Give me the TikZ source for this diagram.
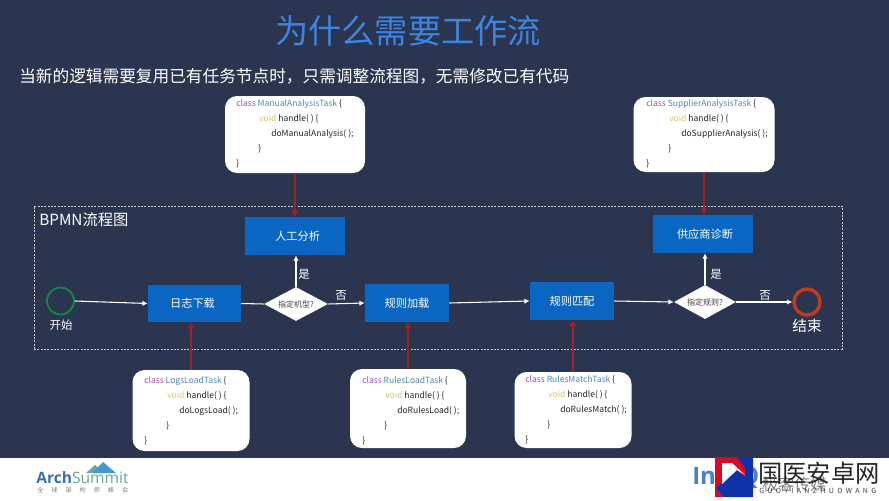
\documentclass[tikz,border=0pt]{standalone}
\usepackage{fontspec}
\setmainfont{Noto Sans CJK SC}
\newfontfamily\latinf{Open Sans}
\newfontfamily\wmspaced[LetterSpace=47]{Noto Sans CJK SC}
\usetikzlibrary{arrows.meta,shapes.geometric}
\definecolor{bg}{HTML}{2B3550}
\definecolor{boxblue}{HTML}{0A66C2}
\definecolor{titleblue}{HTML}{3D85E0}
\definecolor{kwpurple}{HTML}{A04FB0}
\definecolor{kwblue}{HTML}{4F86B8}
\definecolor{kwyellow}{HTML}{D9C66A}
\definecolor{arrred}{HTML}{A81E28}
\definecolor{startgreen}{HTML}{0F8A45}
\definecolor{endred}{HTML}{C03A22}
\definecolor{archblue}{HTML}{3C6EB4}
\definecolor{archgreen}{HTML}{6FA88C}
\definecolor{peak}{HTML}{4696D2}
\definecolor{infoblue}{HTML}{4A80C8}
\definecolor{wmred}{HTML}{DC0A1E}
\definecolor{wmblue}{HTML}{0F32AA}
\tikzset{
  x=0.75pt,y=-0.75pt,
  procbox/.style={fill=boxblue,draw=none,text=white,inner sep=0pt,font=\fontsize{8.4pt}{10pt}\selectfont},
  codebox/.style={fill=white,draw=none,rounded corners=9pt,inner sep=0pt},
  decision/.style={diamond,fill=white,draw=none,aspect=1.85,inner sep=0pt,text=black!75,font=\fontsize{6pt}{7pt}\selectfont},
  lbl/.style={text=white,inner sep=0pt,font=\fontsize{8.6pt}{10pt}\selectfont},
  flow/.style={draw=white,line width=0.8pt,-{Latex[length=4pt,width=4pt]}},
  plainflow/.style={draw=white,line width=0.8pt},
  hook/.style={draw=arrred,line width=1.5pt,-{Latex[length=4.5pt,width=5.5pt]}},
  codetxt/.style={anchor=west,inner sep=0pt,font=\fontsize{6.4pt}{8pt}\selectfont,text=black!85},
}
\newcommand{\codeblock}[5]{% name, left x, top y, class name, method
  \node[codetxt] (#1a) at (#2,#3) {\textcolor{kwpurple}{class} \textcolor{kwblue}{#4} \{};
  \node[codetxt] (#1b) at (#2+23,#3+15) {\textcolor{kwyellow}{void} handle( ) \{};
  \node[codetxt] (#1c) at (#2+35,#3+30) {#5( );};
  \node[codetxt] (#1d) at (#2+22,#3+45) {\}};
  \node[codetxt] (#1e) at (#2,#3+60) {\}};
}
\begin{document}
\begin{tikzpicture}
\useasboundingbox (0,0) rectangle (889,500);
\fill[bg] (0,0) rectangle (889,458);
\fill[white] (0,458) rectangle (889,500);

\node[text=titleblue,inner sep=0pt,font=\fontsize{24.9pt}{30pt}\selectfont] (title) at (408,31) {为什么需要工作流};
\node[text=white,anchor=west,inner sep=0pt,font=\fontsize{12.5pt}{15pt}\selectfont] (sub) at (19,76) {当新的逻辑需要复用已有任务节点时，只需调整流程图，无需修改已有代码};

\node[draw=white!75!bg,dash pattern=on 1.5pt off 1pt,line width=0.5pt,minimum width=808*0.75pt,minimum height=143*0.75pt,inner sep=0pt] (pool) at (438,277.5) {};
\node[text=white,anchor=west,inner sep=0pt,font=\fontsize{11.5pt}{13pt}\selectfont] (bpmn) at (39,220) {BPMN流程图};

% code boxes
\node[codebox,minimum width=140*0.75pt,minimum height=77*0.75pt] (cbM) at (295,134.5) {};
\node[codebox,minimum width=141*0.75pt,minimum height=75*0.75pt] (cbS) at (704,134.5) {};
\node[codebox,minimum width=117*0.75pt,minimum height=81*0.75pt] (cbL) at (191,410.5) {};
\node[codebox,minimum width=116*0.75pt,minimum height=79*0.75pt] (cbR) at (408,408.5) {};
\node[codebox,minimum width=117*0.75pt,minimum height=76*0.75pt] (cbT) at (573,410) {};
\codeblock{m}{236}{104}{ManualAnalysisTask}{doManualAnalysis}
\codeblock{s}{646}{104}{SupplierAnalysisTask}{doSupplierAnalysis}
\codeblock{l}{144}{381}{LogsLoadTask}{doLogsLoad}
\codeblock{r}{362}{381}{RulesLoadTask}{doRulesLoad}
\codeblock{t}{525}{380}{RulesMatchTask}{doRulesMatch}

% process boxes
\node[procbox,minimum width=100*0.75pt,minimum height=38*0.75pt] (manual) at (295,236) {\hspace*{4pt}人工分析};
\node[procbox,minimum width=93*0.75pt,minimum height=37*0.75pt] (logs) at (194.5,303.5) {日志下载\hspace*{3pt}};
\node[procbox,minimum width=84*0.75pt,minimum height=38*0.75pt] (rload) at (407,303) {规则加载};
\node[procbox,minimum width=84*0.75pt,minimum height=38*0.75pt] (rmatch) at (572,301) {规则匹配};
\node[procbox,minimum width=100*0.75pt,minimum height=38*0.75pt] (supp) at (703,234) {\hspace*{3pt}供应商诊断};

% decisions
\node[decision,minimum width=64*0.75pt,minimum height=34*0.75pt] (d1) at (296,304) {指定机型?};
\node[decision,minimum width=62*0.75pt,minimum height=34*0.75pt] (d2) at (705,302) {指定规则?};

% events
\node[circle,draw=startgreen,line width=1.4pt,minimum size=27*0.75pt,inner sep=0pt] (start) at (60.5,301) {};
\node[circle,draw=endred,line width=2.6pt,minimum size=26*0.75pt,inner sep=0pt] (end) at (807,302) {};
\node[lbl] (startl) at (61,325) {开始};
\node[lbl,font=\fontsize{11pt}{13pt}\selectfont] (endl) at (807,326) {结束};

% white flows
\draw[flow] (start.east) -- (logs.west);
\draw[plainflow] (logs.east) -- (d1.west);
\draw[flow] (d1.north) -- (manual.south -| d1.north);
\draw[flow] (d1.east) -- (rload.west);
\draw[flow] (rload.east) -- (rmatch.west);
\draw[flow] (rmatch.east) -- (d2.west);
\draw[flow] (d2.north) -- (d2.north |- supp.south);
\draw[flow] (d2.east) -- (end.west);
\node[lbl] (y1) at (304,274) {是};
\node[lbl] (n1) at (341,295) {否};
\node[lbl] (y2) at (716,274) {是};
\node[lbl] (n2) at (765,295) {否};

% red hooks
\draw[hook] (cbM.south) -- (cbM.south |- manual.north);
\draw[hook] (cbS.south) -- (cbS.south |- supp.north);
\draw[hook] (cbL.north) -- (cbL.north |- logs.south);
\draw[hook] (cbR.north) -- (cbR.north |- rload.south);
\draw[hook] (cbT.north) -- (cbT.north |- rmatch.south);

% footer logos
\fill[archgreen] (86,473) -- (95,465) -- (104,473) -- cycle;
\fill[peak] (92,473) -- (103,462) -- (116,473) -- cycle;
\node[anchor=west,inner sep=0pt,text=archblue,font=\fontsize{11.7pt}{15pt}\bfseries\latinf] (arch) at (36,478) {Arch\textcolor{archgreen}{\mdseries Summit}};
\node[anchor=west,inner sep=0pt,text=black!50,font=\fontsize{4.6pt}{5pt}\selectfont] (archcn) at (37,490) {全\hspace{6pt}球\hspace{6pt}架\hspace{6pt}构\hspace{6pt}师\hspace{6pt}峰\hspace{6pt}会};
\node[anchor=west,inner sep=0pt,text=infoblue,font=\fontsize{18pt}{22pt}\bfseries\latinf] (infoq) at (692,477) {InfoQ};
\node[anchor=west,inner sep=0pt,text=black!50,font=\fontsize{12pt}{14pt}\selectfont] (geek) at (762,484) {极客传媒};
% watermark
\fill[wmred] (715,457) rectangle (752,497);
\fill[wmblue] (737,457) -- (753,457) -- (753,497) -- (724,497) -- (716,488) -- (737,470) -- (745,477) -- (745,468) -- cycle;
\fill[white] (722,463) -- (732,463) -- (745,475) -- (737,470) -- (722,484) -- cycle;
\node[anchor=west,inner sep=0pt,text=black!85,font=\fontsize{18.2pt}{20pt}\selectfont] (wm) at (758,473) {国医安卓网};
\node[anchor=west,inner sep=0pt,text=black!75,font=\fontsize{5.3pt}{6pt}\wmspaced] (wm2) at (759,491) {GUOYIANZHUOWANG};
\end{tikzpicture}
\end{document}
